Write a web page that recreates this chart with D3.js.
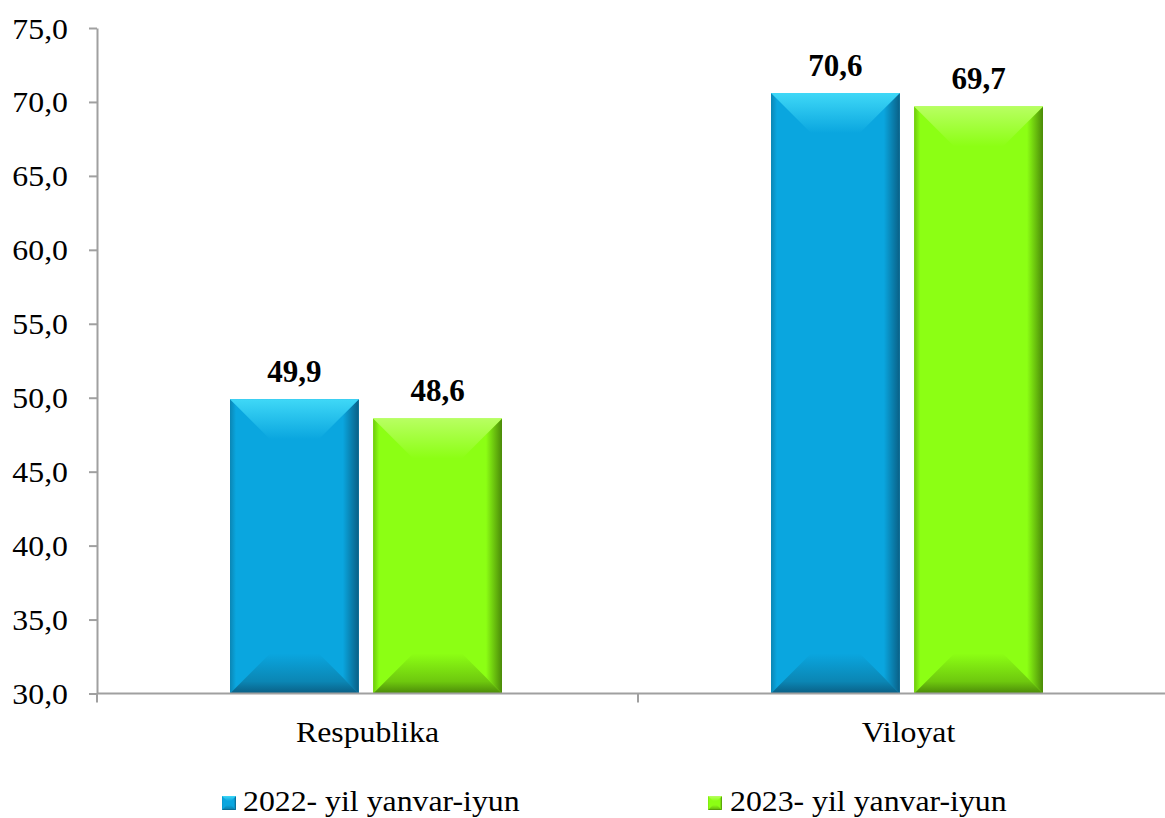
<!DOCTYPE html>
<html>
<head>
<meta charset="utf-8">
<script src="https://cdn.jsdelivr.net/npm/d3@7"></script>
<style>
  body { margin: 0; background: #fff; }
  text { font-family: "Liberation Serif", "Times New Roman", serif; }
</style>
</head>
<body>
<svg id="chart" width="1165" height="818"></svg>
<script>
var categories = ["Respublika", "Viloyat"];
var seriesNames = ["2022- yil yanvar-iyun", "2023- yil yanvar-iyun"];
var values2022 = [49.9, 70.6];
var values2023 = [48.6, 69.7];
var yTicks = [30, 35, 40, 45, 50, 55, 60, 65, 70, 75];

var colors = [
  { base: "#0aa6df", light: "#3fd8f7", dark: "#0a5f85", bottom: "#0b86b4" },
  { base: "#8cff14", light: "#b8ff62", dark: "#4b8a08", bottom: "#6ec80e" }
];

var svg = d3.select("#chart");
var fmt = function (v) { return d3.format(".1f")(v).replace(".", ","); };
var sx = 1.06; // text is a bit wider than plain Times

var y = d3.scaleLinear().domain([30, 75]).range([693.5, 28]);
var x0 = d3.scaleBand().domain(categories).range([97, 1179]);
var x1 = d3.scaleBand().domain(d3.range(seriesNames.length))
  .range([133, 405]).paddingInner(0.1);

var data = categories.map(function (c, i) {
  return { cat: c, vals: [values2022[i], values2023[i]] };
});

// gradients
var defs = svg.append("defs");
colors.forEach(function (col, i) {
  var g = defs.append("linearGradient").attr("id", "top" + i)
    .attr("x1", 0).attr("y1", 0).attr("x2", 0).attr("y2", 1);
  g.append("stop").attr("offset", 0).attr("stop-color", col.light);
  g.append("stop").attr("offset", 1).attr("stop-color", col.base);

  g = defs.append("linearGradient").attr("id", "right" + i)
    .attr("x1", 0).attr("y1", 0).attr("x2", 1).attr("y2", 0);
  g.append("stop").attr("offset", 0).attr("stop-color", col.base);
  g.append("stop").attr("offset", 0.6).attr("stop-color", col.base);
  g.append("stop").attr("offset", 1).attr("stop-color", col.dark);

  g = defs.append("linearGradient").attr("id", "left" + i)
    .attr("x1", 0).attr("y1", 0).attr("x2", 1).attr("y2", 0);
  g.append("stop").attr("offset", 0).attr("stop-color", col.bottom);
  g.append("stop").attr("offset", 0.15).attr("stop-color", col.base);
  g.append("stop").attr("offset", 1).attr("stop-color", col.base);

  g = defs.append("linearGradient").attr("id", "bottom" + i)
    .attr("x1", 0).attr("y1", 0).attr("x2", 0).attr("y2", 1);
  g.append("stop").attr("offset", 0).attr("stop-color", col.base);
  g.append("stop").attr("offset", 0.7).attr("stop-color", col.bottom);
  g.append("stop").attr("offset", 1).attr("stop-color", col.dark);
});

function bevelBar(sel, x, yTop, w, h, i, b) {
  b = Math.min(b, w / 2, h / 2);
  var g = sel.append("g");
  g.append("rect").attr("x", x).attr("y", yTop).attr("width", w).attr("height", h)
    .attr("fill", colors[i].base);
  var pts = function (arr) { return arr.map(function (p) { return p.join(","); }).join(" "); };
  var r = x + w, bt = yTop + h;
  g.append("polygon").attr("fill", "url(#left" + i + ")")
    .attr("points", pts([[x, yTop], [x + b, yTop + b], [x + b, bt - b], [x, bt]]));
  g.append("polygon").attr("fill", "url(#right" + i + ")")
    .attr("points", pts([[r, yTop], [r, bt], [r - b, bt - b], [r - b, yTop + b]]));
  g.append("polygon").attr("fill", "url(#bottom" + i + ")")
    .attr("points", pts([[x, bt], [r, bt], [r - b, bt - b], [x + b, bt - b]]));
  g.append("polygon").attr("fill", "url(#top" + i + ")")
    .attr("points", pts([[x, yTop], [r, yTop], [r - b, yTop + b], [x + b, yTop + b]]));
  return g;
}

// bars
var groups = svg.selectAll("g.cat").data(data).enter().append("g")
  .attr("class", "cat")
  .attr("transform", function (d) { return "translate(" + x0(d.cat) + ",0)"; });

groups.each(function (d) {
  var g = d3.select(this);
  d.vals.forEach(function (v, i) {
    var bx = x1(i), bw = x1.bandwidth();
    bevelBar(g, bx, y(v), bw, y(30) - y(v), i, 40);
    g.append("text")
      .attr("transform", "translate(" + (bx + bw / 2) + "," + (y(v) - 17) + ")")
      .attr("text-anchor", "middle")
      .attr("font-size", 31).attr("font-weight", "bold")
      .text(fmt(v));
  });
});

// y axis
var yAxis = d3.axisLeft(y).tickValues(yTicks).tickSize(8).tickSizeOuter(0).tickFormat(fmt);
var ya = svg.append("g").attr("transform", "translate(97,0)").call(yAxis);
ya.select(".domain").attr("stroke", "#a0a0a0").attr("stroke-width", 2);
ya.selectAll(".tick line").attr("stroke", "#a0a0a0").attr("stroke-width", 2);
ya.selectAll(".tick text").remove();
ya.selectAll(".tick").append("text")
  .attr("transform", "translate(-29,10) scale(" + sx + ",1)")
  .attr("text-anchor", "end").attr("fill", "#000")
  .attr("font-size", 30)
  .text(function (d) { return fmt(d); });

// x axis
var xa = svg.append("g");
xa.append("line").attr("x1", 97).attr("x2", 1179).attr("y1", y(30)).attr("y2", y(30))
  .attr("stroke", "#a0a0a0").attr("stroke-width", 2);
var bounds = categories.map(function (c) { return x0(c); }).concat([x0.range()[1]]);
xa.selectAll("line.xt").data(bounds).enter().append("line").attr("class", "xt")
  .attr("x1", function (d) { return d; }).attr("x2", function (d) { return d; })
  .attr("y1", y(30)).attr("y2", y(30) + 9)
  .attr("stroke", "#a0a0a0").attr("stroke-width", 2);
xa.selectAll("text").data(categories).enter().append("text")
  .attr("transform", function (c) {
    return "translate(" + (x0(c) + x0.bandwidth() / 2) + ",742) scale(" + sx + ",1)";
  })
  .attr("text-anchor", "middle").attr("font-size", 30)
  .text(function (c) { return c; });

// legend
var legX = [222, 708];
var leg = svg.selectAll("g.leg").data(seriesNames).enter().append("g")
  .attr("class", "leg")
  .attr("transform", function (d, i) { return "translate(" + legX[i] + ",796)"; });
leg.each(function (d, i) {
  var g = d3.select(this);
  bevelBar(g, 0, 0, 14, 14, i, 5);
  g.append("text")
    .attr("transform", "translate(" + (i === 0 ? 21 : 22) + ",15) scale(" + sx + ",1)")
    .attr("font-size", 30).text(d);
});
</script>
</body>
</html>
